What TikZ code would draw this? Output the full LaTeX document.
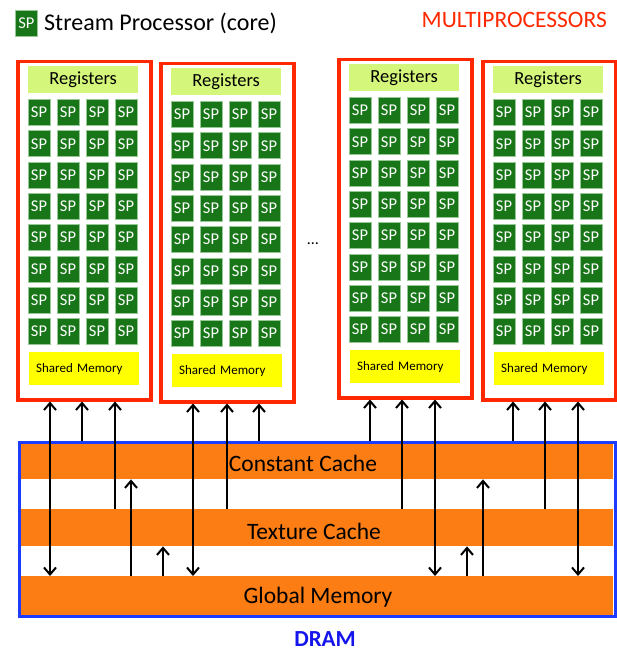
\documentclass[tikz,border=0pt]{standalone}
\usepackage{fontspec}
\setmainfont{Carlito}
\usetikzlibrary{arrows.meta}
\definecolor{spgreen}{RGB}{24,118,24}
\definecolor{spedge}{RGB}{150,200,150}
\definecolor{reggreen}{RGB}{212,246,122}
\definecolor{shmyellow}{RGB}{255,255,0}
\definecolor{mpred}{RGB}{255,40,0}
\definecolor{bandorange}{RGB}{252,125,20}
\definecolor{drblue}{RGB}{30,60,255}
\definecolor{drtext}{RGB}{20,20,235}
\tikzset{
  mpbox/.style={draw=mpred, line width=3.5pt, fill=white, minimum width=133pt, minimum height=338pt, inner sep=0pt, anchor=north west},
  regbox/.style={fill=reggreen, minimum width=110pt, minimum height=27pt, inner sep=0pt, anchor=north west, font=\fontsize{18.5}{19}\selectfont},
  spcell/.style={fill=spgreen, draw=spedge, line width=0.7pt, minimum width=22pt, minimum height=26pt, inner sep=0pt, text=white, font=\fontsize{16.5}{16.5}\selectfont},
  shmbox/.style={fill=shmyellow, minimum width=110pt, minimum height=33pt, inner xsep=7pt, inner ysep=0pt, text width=96pt, align=left, anchor=north west, font=\fontsize{13}{14}\selectfont},
  band/.style={fill=bandorange, minimum width=593pt, minimum height=37pt, inner sep=0pt, anchor=north west},
  bandtext/.style={font=\fontsize{23.5}{24}\selectfont, inner sep=0pt},
  link/.style={line width=2pt, draw=black},
}
\begin{document}
\begin{tikzpicture}[x=1pt, y=-1pt]
\useasboundingbox (0,0) rectangle (616,652);
% legend
\node[spcell, anchor=north west] (legsp) at (15,10) {SP};
\node[anchor=west, inner sep=0pt, font=\fontsize{24}{24}\selectfont] (legtxt) at (44,23) {Stream Processor (core)};
\node[anchor=east, inner sep=0pt, text=mpred, font=\fontsize{23.5}{24}\selectfont] (mptitle) at (607,20) {MULTIPROCESSORS};
% multiprocessors
\foreach \i/\x/\y in {1/16/60, 2/159/62, 3/337/58, 4/481/60} {
  \node[mpbox] (mp\i) at (\x,\y) {};
  \node[regbox] (reg\i) at (\x+12,\y+6) {Registers};
  \foreach \r in {0,...,7} {
    \foreach \c in {0,...,3} {
      \node[spcell] (sp\i-\r-\c) at (\x+23+\c*29, \y+52.5+\r*31.3) {SP};
    }
  }
  \node[shmbox] (shm\i) at (\x+13,\y+292) {Shared Memory};
}
\node[inner sep=0pt, font=\fontsize{16}{16}\selectfont] (dots) at (313,244) {\dots};
% DRAM bands
\node[band] (const) at (20,442) {};
\node[band] (tex) at (20,509) {};
\node[band, minimum height=39pt] (glob) at (20,576) {};
\node[bandtext] (constlbl) at (303,463) {Constant Cache};
\node[bandtext] (texlbl) at (314,531) {Texture Cache};
\node[bandtext] (globlbl) at (318,597) {Global Memory};
\node[draw=drblue, line width=3pt, minimum width=596pt, minimum height=174pt, inner sep=0pt, anchor=north west] (dram) at (18,441) {};
\node[inner sep=0pt, anchor=base, text=drtext, font=\bfseries\fontsize{23}{23}\selectfont] (dramlbl) at (325,646) {DRAM};
% arrow x positions
\foreach \n/\xx in {a1/50,a2/82,a3/115,u1/131,u2/163,b1/193,b2/227,b3/259,c1/370,c2/402,c3/435,u3/467,u4/483,d1/513,d2/545,d3/578} {
  \coordinate (\n) at (\xx,0);
}
% box 1
\draw[link, {Straight Barb[length=7pt,width=12pt]}-{Straight Barb[length=7pt,width=12pt]}] (mp1.south -| a1) -- (glob.north -| a1);
\draw[link, {Straight Barb[length=7pt,width=12pt]}-] (mp1.south -| a2) -- (dram.north -| a2);
\draw[link, {Straight Barb[length=7pt,width=12pt]}-] (mp1.south -| a3) -- (tex.north -| a3);
% box 2
\draw[link, {Straight Barb[length=7pt,width=12pt]}-{Straight Barb[length=7pt,width=12pt]}] (mp2.south -| b1) -- (glob.north -| b1);
\draw[link, {Straight Barb[length=7pt,width=12pt]}-] (mp2.south -| b2) -- (tex.north -| b2);
\draw[link, {Straight Barb[length=7pt,width=12pt]}-] (mp2.south -| b3) -- (dram.north -| b3);
% box 3
\draw[link, {Straight Barb[length=7pt,width=12pt]}-] (mp3.south -| c1) -- (dram.north -| c1);
\draw[link, {Straight Barb[length=7pt,width=12pt]}-] (mp3.south -| c2) -- (tex.north -| c2);
\draw[link, {Straight Barb[length=7pt,width=12pt]}-{Straight Barb[length=7pt,width=12pt]}] (mp3.south -| c3) -- (glob.north -| c3);
% box 4
\draw[link, {Straight Barb[length=7pt,width=12pt]}-] (mp4.south -| d1) -- (dram.north -| d1);
\draw[link, {Straight Barb[length=7pt,width=12pt]}-] (mp4.south -| d2) -- (tex.north -| d2);
\draw[link, {Straight Barb[length=7pt,width=12pt]}-{Straight Barb[length=7pt,width=12pt]}] (mp4.south -| d3) -- (glob.north -| d3);
% upward arrows from global memory
\draw[link, -{Straight Barb[length=7pt,width=12pt]}] (glob.north -| u1) -- (const.south -| u1);
\draw[link, -{Straight Barb[length=7pt,width=12pt]}] (glob.north -| u2) -- (tex.south -| u2);
\draw[link, -{Straight Barb[length=7pt,width=12pt]}] (glob.north -| u3) -- (tex.south -| u3);
\draw[link, -{Straight Barb[length=7pt,width=12pt]}] (glob.north -| u4) -- (const.south -| u4);
\end{tikzpicture}
\end{document}
